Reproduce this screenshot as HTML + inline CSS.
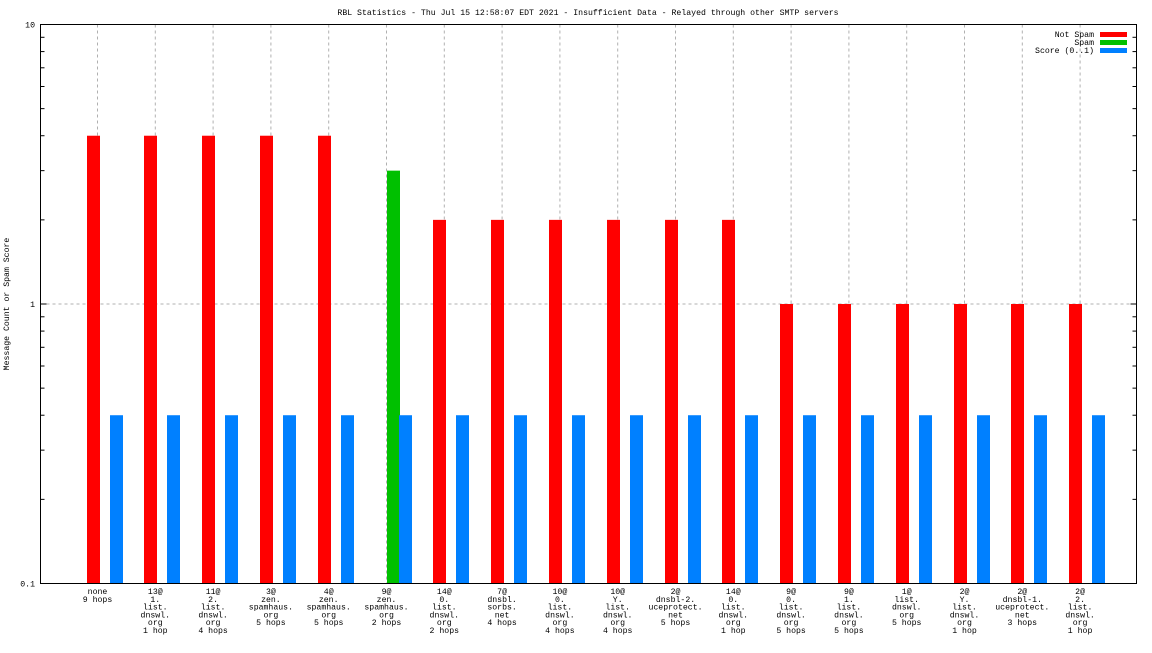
<!DOCTYPE html>
<html><head><meta charset="utf-8"><style>
body{margin:0;background:#fff}
svg text{font-family:"Liberation Mono",monospace;font-size:8.2px;fill:#000}
</style></head><body>
<svg id="c" width="1152" height="648" xmlns="http://www.w3.org/2000/svg">
<text x="588" y="15" text-anchor="middle">RBL Statistics - Thu Jul 15 12:58:07 EDT 2021 - Insufficient Data - Relayed through other SMTP servers</text>
<text transform="translate(9,304) rotate(-90)" text-anchor="middle">Message Count or Spam Score</text>
<g id="grid"></g><g id="bars"></g><g id="axes"></g><g id="labels"></g>
<g>
<text x="1094" y="37" text-anchor="end">Not Spam</text>
<rect x="1100" y="32" width="27" height="5" fill="#ff0000"/>
<text x="1094" y="45" text-anchor="end">Spam</text>
<rect x="1100" y="40" width="27" height="5" fill="#00c000"/>
<text x="1094" y="53" text-anchor="end">Score (0..1)</text>
<rect x="1100" y="48" width="27" height="5" fill="#0080ff"/>
</g>
</svg>
<script>
const categories=[["none","9 hops"],["13@","1.","list.","dnswl.","org","1 hop"],["11@","2.","list.","dnswl.","org","4 hops"],["3@","zen.","spamhaus.","org","5 hops"],["4@","zen.","spamhaus.","org","5 hops"],["9@","zen.","spamhaus.","org","2 hops"],["14@","0.","list.","dnswl.","org","2 hops"],["7@","dnsbl.","sorbs.","net","4 hops"],["10@","0.","list.","dnswl.","org","4 hops"],["10@","Y.","list.","dnswl.","org","4 hops"],["2@","dnsbl-2.","uceprotect.","net","5 hops"],["14@","0.","list.","dnswl.","org","1 hop"],["9@","0.","list.","dnswl.","org","5 hops"],["9@","1.","list.","dnswl.","org","5 hops"],["1@","list.","dnswl.","org","5 hops"],["2@","Y.","list.","dnswl.","org","1 hop"],["2@","dnsbl-1.","uceprotect.","net","3 hops"],["2@","2.","list.","dnswl.","org","1 hop"]];
const notSpam=[4,4,4,4,4,0,2,2,2,2,2,2,1,1,1,1,1,1];
const spam=[0,0,0,0,0,3,0,0,0,0,0,0,0,0,0,0,0,0];
const score=[0.4,0.4,0.4,0.4,0.4,0.4,0.4,0.4,0.4,0.4,0.4,0.4,0.4,0.4,0.4,0.4,0.4,0.4];
const yTicks=["10","1","0.1"];
const NS="http://www.w3.org/2000/svg";
const L=40.5,R=1136.5,T=24.5,B=583.5;
const y=v=>B-(Math.log10(v)+1)/2*(B-T);
const xc=i=>97.5+i*57.8;
function mk(t,a,p){const e=document.createElementNS(NS,t);for(const k in a)e.setAttribute(k,a[k]);document.getElementById(p).appendChild(e);return e;}
categories.forEach((c,i)=>{
 const g=mk("line",{x1:xc(i),x2:xc(i),y1:T,y2:B,stroke:"#b0b0b0","stroke-dasharray":"3,3"},"grid");
 
 
 const X=Math.round(xc(i));
 const bars=[[notSpam[i],X-11,"#ff0000","not-spam"],[spam[i],X,"#00c000","spam"],[score[i],X+12,"#0080ff","score"]];
 bars.forEach(b=>{if(b[0]>0.1){const r=mk("rect",{x:b[1],y:y(b[0]),width:13,height:B-y(b[0]),fill:b[2]},"bars");
  
  }});
 c.forEach((s,j)=>{const t=mk("text",{x:xc(i),y:594+j*7.8,"text-anchor":"middle"},"labels");t.textContent=s;
  
  });
});
const gl=mk("line",{x1:L,x2:R,y1:y(1),y2:y(1),stroke:"#b0b0b0","stroke-dasharray":"3,3"},"grid");


const fr=mk("rect",{x:L,y:T,width:R-L,height:B-T,fill:"none",stroke:"#000"},"axes");


[0.1,1].forEach(d=>{for(let k=2;k<=9;k++){const v=d*k,yy=y(v);
 mk("line",{x1:L,x2:L+4,y1:yy,y2:yy,stroke:"#000"},"axes");
 mk("line",{x1:R-4,x2:R,y1:yy,y2:yy,stroke:"#000"},"axes");}});
yTicks.forEach(s=>{const yy=y(parseFloat(s));
 mk("line",{x1:L,x2:L+6,y1:yy,y2:yy,stroke:"#000"},"axes");
 mk("line",{x1:R-6,x2:R,y1:yy,y2:yy,stroke:"#000"},"axes");
 const t=mk("text",{x:35,y:yy+3,"text-anchor":"end"},"labels");t.textContent=s;
 
 });
</script>
</body></html>
